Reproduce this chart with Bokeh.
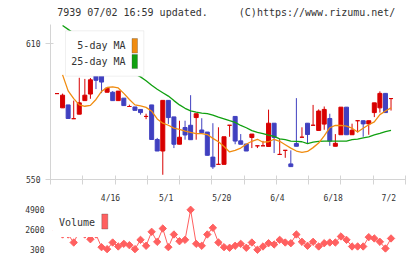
import numpy as np
from bokeh.plotting import figure
from bokeh.layouts import column
from bokeh.models import Range1d, FixedTicker, BoxAnnotation, Label, ColumnDataSource
from bokeh.core.properties import value
from bokeh.embed import file_html
from bokeh.resources import INLINE

# ---------------- data ----------------
opens = [588.0, 581.7, 583.0, 576.9, 578.9, 584.9, 587.8, 597.1, 596.4, 588.6,
         588.6, 584.9, 586.0, 582.3, 582.1, 581.0, 577.9, 583.0, 567.7, 562.6,
         585.0, 577.7, 565.6, 573.0, 574.0, 577.4, 571.9, 571.0, 559.9, 556.7,
         556.7, 574.0, 577.9, 567.1, 565.7, 568.6, 564.9, 564.9, 564.6, 574.9,
         561.1, 562.9, 556.9, 565.9, 568.7, 574.9, 574.0, 571.7, 574.5, 577.0,
         564.7, 569.8, 582.0, 569.8, 576.0, 576.0, 574.6, 579.6, 581.7, 588.1,
         585.8]
highs = [588.0, 588.0, 583.0, 584.9, 595.0, 594.5, 594.9, 597.1, 596.4, 590.4,
         589.1, 589.1, 586.0, 583.1, 582.1, 581.0, 579.1, 583.0, 568.4, 585.0,
         585.0, 577.7, 576.0, 576.0, 587.3, 579.1, 577.1, 571.0, 574.9, 573.1,
         568.9, 574.0, 577.9, 570.1, 565.7, 570.1, 564.9, 567.1, 580.9, 574.9,
         567.9, 562.9, 562.9, 586.0, 573.1, 574.9, 583.0, 581.0, 582.3, 579.1,
         570.1, 582.0, 582.0, 574.7, 576.0, 576.0, 576.0, 583.9, 589.0, 588.1,
         585.8]
lows = [588.0, 581.7, 577.0, 576.9, 578.9, 584.9, 585.7, 590.0, 588.2, 588.6,
        584.9, 584.9, 582.7, 582.3, 580.6, 578.7, 576.7, 567.7, 562.6, 552.1,
        574.6, 563.9, 565.6, 567.6, 567.6, 567.6, 570.7, 560.7, 554.7, 556.7,
        556.7, 568.9, 565.6, 565.6, 562.6, 563.9, 563.9, 564.9, 564.6, 561.7,
        561.1, 559.6, 555.7, 564.7, 568.7, 565.9, 574.0, 571.7, 572.0, 564.9,
        564.7, 569.8, 569.8, 569.8, 570.8, 568.9, 569.8, 577.6, 579.6, 579.6,
        580.5]
closes = [588.0, 587.3, 577.0, 576.9, 583.9, 587.3, 594.1, 593.9, 593.1, 590.4,
          584.9, 589.1, 582.7, 582.3, 580.6, 579.6, 577.9, 567.7, 562.6, 585.0,
          577.4, 565.6, 568.7, 569.7, 567.6, 579.1, 570.7, 560.7, 555.6, 556.7,
          568.9, 574.0, 567.0, 565.6, 562.6, 570.1, 564.9, 564.9, 574.9, 568.6,
          561.1, 562.9, 555.7, 564.7, 568.7, 569.9, 574.0, 580.3, 581.0, 567.0,
          566.0, 582.0, 569.8, 571.8, 576.0, 574.6, 576.0, 583.9, 588.1, 579.6,
          585.8]
nan = float("nan")
ma5 = [nan, 596.3, 589.2, 585.8, 583.0, 582.4, 582.8, 585.4, 589.0, 590.7,
       591.0, 590.5, 588.1, 585.4, 583.0, 582.6, 581.9, 580.2, 576.8, 574.9,
       574.0, 572.7, 572.2, 571.4, 570.8, 570.3, 570.3, 569.9, 568.2, 566.7,
       564.6, 562.2, 562.9, 563.9, 565.6, 566.9, 567.8, 566.5, 566.7, 567.8,
       566.9, 565.4, 563.9, 562.6, 562.0, 562.4, 564.1, 566.1, 569.3, 572.9,
       573.9, 573.9, 573.6, 572.7, 571.0, 572.7, 574.2, 575.5, 578.7, 580.3,
       581.7]
ma25 = [nan, 618.1, 616.4, 614.7, 612.6, 610.9, 609.1, 607.0, 605.3, 603.6,
        601.9, 600.6, 599.3, 598.0, 596.7, 595.4, 593.7, 591.7, 589.9, 588.4,
        586.9, 584.9, 583.0, 581.5, 580.4, 579.8, 579.4, 579.1, 578.5, 577.6,
        576.8, 576.0, 575.3, 573.9, 572.9, 571.6, 570.8, 570.3, 569.6, 569.1,
        568.0, 567.6, 567.0, 566.9, 566.7, 565.9, 566.5, 566.9, 567.0, 567.0,
        567.0, 567.0, 567.0, 567.6, 567.9, 568.4, 568.9, 569.7, 570.4, 571.2,
        571.7]
volume = [2500, 2040, 2040, 1110, 2400, 2040, 1490, 2040, 570, 340,
          1110, 650, 960, 800, 340, 1420, 730, 2350, 1190, 2730,
          570, 2040, 1260, 1420, 4900, 960, 730, 2040, 2810, 1110,
          570, 500, 730, 960, 500, 1110, 270, 650, 1030, 880,
          1420, 1110, 1030, 2040, 1190, 730, 1190, 650, 1030, 1110,
          1110, 1810, 1420, 650, 650, 650, 1730, 1580, 1190, 420,
          1580]
date_labels = ["4/16", "5/1", "5/20", "6/4", "6/18", "7/2"]
date_label_idx = [10, 20, 30, 40, 50, 60]
price_ticks = [550, 610]
volume_ticks = [300, 2600, 4900]
header_left = "7939 07/02 16:59 updated."
header_right = "(C)https://www.rizumu.net/"

# ---------------- style / geometry ----------------
RED, BLUE = "#d80000", "#4040c0"
ORANGE, GREEN = "#f08c10", "#10a010"
VOLC = "#ff6060"
AXC = "#d4d4d4"
TXT = "#333333"
MONO = "DejaVu Sans Mono"

W = 420
H0 = 24                   # header strip
H1, H2 = 205, 54          # page y where volume starts, volume height
FL, FR = 50, 405          # frame left/right px
PT, PB = 24, 184          # price frame top/bottom (page px)
XS, XE = -1.17, 62.6
YS = 550.0
YE = 550.0 + (PB - PT) * 60.0 / 140.0
VPX = (249 - 209.3) / 4600.0          # px per volume unit
VT = 4900 + (209.3 - H1) / VPX
VB = 300 - (H1 + H2 - 4 - 249) / VPX


def px2x(px):
    return XS + (px - FL) * (XE - XS) / (FR - FL)


def px2y(py):
    return YS + (PB - py) * (YE - YS) / (PB - PT)


def px2v(py):
    return 300 + (249 - py) / VPX


n = len(opens)
x = np.arange(n)
up = [c >= o for o, c in zip(opens, closes)]
src = ColumnDataSource(dict(
    x=x, h=highs, l=lows,
    top=np.maximum(opens, closes), bottom=np.minimum(opens, closes),
    color=[RED if u else BLUE for u in up]))

# ---------------- header strip ----------------
p0 = figure(width=W, height=H0, output_backend="svg", toolbar_location=None,
            x_range=Range1d(0, W), y_range=Range1d(H0, 0),
            x_axis_location=None, y_axis_location=None, min_border=0, title=None)
p0.outline_line_color = None
p0.grid.visible = False
p0.text(x=[8], y=[12], text=[header_left], text_align="left", text_baseline="middle",
        text_font=value(MONO), text_font_size="10px", text_color=TXT)
p0.text(x=[408], y=[12], text=[header_right], text_align="right", text_baseline="middle",
        text_font=value(MONO), text_font_size="10px", text_color=TXT)

# ---------------- price figure ----------------
p1 = figure(width=W, height=H1 - H0, output_backend="svg", toolbar_location=None,
            x_range=Range1d(XS, XE), y_range=Range1d(YS, YE), title=None,
            min_border_left=FL, min_border_right=W - FR,
            min_border_top=PT - H0, min_border_bottom=H1 - PB)
p1.outline_line_color = None
p1.grid.visible = False
p1.background_fill_color = "white"
p1.border_fill_color = "white"

p1.segment(x0="x", y0="l", x1="x", y1="h", line_color="color", line_width=1, source=src)
p1.vbar(x="x", width=0.72, top="top", bottom="bottom", fill_color="color",
        line_color="color", line_width=1, source=src)
p1.line(x, ma25, line_color=GREEN, line_width=1.3)
p1.line(x, ma5, line_color=ORANGE, line_width=1.3)

ax = p1.xaxis[0]
minor = [XS + k * (XE - XS) / 11 for k in range(12)]
minor[0] += 1e-6
minor[-1] -= 1e-6
pos = [i - 0.4 for i in date_label_idx]
ax.ticker = FixedTicker(ticks=pos, minor_ticks=minor)
ax.major_label_overrides = {p: t for p, t in zip(pos, date_labels)}
ax.major_tick_in = 0
ax.major_tick_out = 0
ax.minor_tick_in = 4
ax.minor_tick_out = 5
ax.minor_tick_line_color = AXC
ax.axis_line_color = AXC
ax.major_label_standoff = 9
ax.major_label_text_font = MONO
ax.major_label_text_font_size = "8px"
ax.major_label_text_color = TXT

ay = p1.yaxis[0]
ay.ticker = FixedTicker(ticks=price_ticks)
ay.major_tick_in = 3
ay.major_tick_out = 5
ay.major_tick_line_color = AXC
ay.minor_tick_line_color = None
ay.axis_line_color = AXC
ay.major_label_standoff = 5
ay.major_label_text_font = MONO
ay.major_label_text_font_size = "8px"
ay.major_label_text_color = TXT

# legend (text left of swatch, as in the reference)
p1.add_layout(BoxAnnotation(left=px2x(65), right=px2x(143.3), top=px2y(30.5), bottom=px2y(77.3),
                            fill_color="white", fill_alpha=1.0, line_color="#cccccc", line_width=1))
for label, yc, col, y0, y1 in [("5-day MA", 46, ORANGE, 38.5, 53.5), ("25-day MA", 62.7, GREEN, 55, 69.5)]:
    p1.add_layout(Label(x=px2x(125), y=px2y(yc), text=label, text_align="right",
                        text_baseline="middle", text_font=MONO, text_font_size="10px",
                        text_color=TXT))
    p1.add_layout(BoxAnnotation(left=px2x(131.5), right=px2x(137), top=px2y(y0), bottom=px2y(y1),
                                fill_color=col, fill_alpha=1.0, line_color="#404040", line_width=1))

# ---------------- volume figure ----------------
p2 = figure(width=W, height=H2, output_backend="svg", toolbar_location=None,
            x_range=p1.x_range, y_range=Range1d(VB, VT), x_axis_location=None, title=None,
            min_border_left=FL, min_border_right=W - FR, min_border_top=0, min_border_bottom=4)
p2.outline_line_color = None
p2.grid.visible = False
p2.background_fill_color = "white"
p2.border_fill_color = "white"

p2.line(x, volume, line_color=VOLC, line_width=1)
p2.scatter(x, volume, marker="square", angle=np.pi / 4, size=5.2, fill_color=VOLC, line_color=VOLC)

vy = p2.yaxis[0]
vy.ticker = FixedTicker(ticks=volume_ticks)
vy.axis_line_color = None
vy.major_tick_line_color = None
vy.minor_tick_line_color = None
vy.major_tick_out = 0
vy.major_tick_in = 0
vy.major_label_standoff = 6
vy.major_label_text_font = MONO
vy.major_label_text_font_size = "8px"
vy.major_label_text_color = TXT

p2.add_layout(BoxAnnotation(left=px2x(52), right=px2x(112), top=VT, bottom=px2v(236.5),
                            fill_color="white", fill_alpha=1.0, line_color=None))
p2.add_layout(Label(x=px2x(58.5), y=px2v(222.3), text="Volume", text_align="left",
                    text_baseline="middle", text_font=MONO, text_font_size="10px", text_color=TXT))
p2.add_layout(BoxAnnotation(left=px2x(101.3), right=px2x(107.3), top=px2v(213.5), bottom=px2v(228.5),
                            fill_color=VOLC, fill_alpha=1.0, line_color="#404040", line_width=1))

layout = column(p0, p1, p2, spacing=0)
open("out.html", "w").write(file_html(layout, INLINE))
